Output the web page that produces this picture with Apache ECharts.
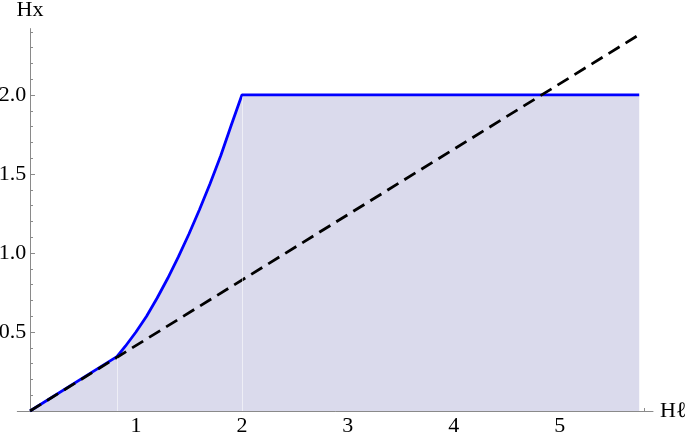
<!DOCTYPE html>
<html>
<head>
<meta charset="utf-8">
<script src="https://cdn.jsdelivr.net/npm/echarts@6/dist/echarts.min.js"></script>
<style>html,body{margin:0;padding:0;background:#fff}#c{width:685px;height:436px}</style>
</head>
<body>
<div id="c"></div>
<script>
// blue curve (x, Hx)
const curveX = [0, 0.82, 0.9, 1.0, 1.1, 1.2, 1.3, 1.4, 1.5, 1.6, 1.7, 1.8, 1.9, 2.0, 5.75];
const curveY = [0, 0.344, 0.41, 0.50, 0.60, 0.715, 0.84, 0.975, 1.12, 1.275, 1.44, 1.615, 1.81, 2.0, 2.0];
// dashed reference line
const dashX = [0, 5.77];
const dashY = [0, 2.39];
// seams in the filling
const seamX = [0.82, 2.0];
const seamY = [0.344, 2.0];
// ticks
const xMajor = [1, 2, 3, 4, 5];
const xMinor = [0.2, 0.4, 0.6, 0.8, 1.2, 1.4, 1.6, 1.8, 2.2, 2.4, 2.6, 2.8, 3.2, 3.4, 3.6, 3.8, 4.2, 4.4, 4.6, 4.8, 5.2, 5.4, 5.6, 5.8];
const yMajor = [0.5, 1.0, 1.5, 2.0];
const yMinor = [0.1, 0.2, 0.3, 0.4, 0.6, 0.7, 0.8, 0.9, 1.1, 1.2, 1.3, 1.4, 1.6, 1.7, 1.8, 1.9, 2.1, 2.2, 2.3, 2.4];

const font = 'Liberation Serif';
const axisCol = '#8a8a8a';
const xMin = -0.12, xMax = 5.88, yMin = 0, yMax = 2.42;

const chart = echarts.init(document.getElementById('c'), null, {renderer: 'canvas'});
chart.setOption({
  animation: false,
  grid: {left: 17.3, right: 32, top: 28.6, bottom: 25, containLabel: false, outerBoundsMode: 'none'},
  xAxis: [
    {type: 'value', min: xMin, max: xMax, name: 'H\u2113', nameLocation: 'end', nameGap: 7,
     nameTextStyle: {fontFamily: font, fontSize: 22, color: '#000', verticalAlign: 'middle'},
     axisLine: {show: true, lineStyle: {color: axisCol, width: 1}},
     axisTick: {show: true, inside: true, length: 5, customValues: xMajor, lineStyle: {color: axisCol}},
     axisLabel: {show: true, customValues: xMajor, fontFamily: font, fontSize: 22, color: '#000', margin: 4, formatter: v => String(v)},
     splitLine: {show: false}},
    {type: 'value', min: xMin, max: xMax, position: 'bottom',
     axisLine: {show: false},
     axisTick: {show: true, inside: true, length: 3, customValues: xMinor, lineStyle: {color: axisCol}},
     axisLabel: {show: false}, splitLine: {show: false}}
  ],
  yAxis: [
    {type: 'value', min: yMin, max: yMax, position: 'left', name: 'Hx', nameLocation: 'end', nameGap: 7,
     nameTextStyle: {fontFamily: font, fontSize: 22, color: '#000', align: 'center'},
     axisLine: {show: true, onZero: true, onZeroAxisIndex: 0, lineStyle: {color: axisCol, width: 1}},
     axisTick: {show: true, inside: true, length: 5, customValues: yMajor, lineStyle: {color: axisCol}},
     axisLabel: {show: true, customValues: yMajor, fontFamily: font, fontSize: 22, color: '#000', margin: -9, formatter: v => v.toFixed(1)},
     splitLine: {show: false}},
    {type: 'value', min: yMin, max: yMax, position: 'left',
     axisLine: {show: false, onZero: true, onZeroAxisIndex: 0},
     axisTick: {show: true, inside: true, length: 3, customValues: yMinor, lineStyle: {color: axisCol}},
     axisLabel: {show: false}, splitLine: {show: false}}
  ],
  series: [
    {type: 'line', xAxisIndex: 0, yAxisIndex: 0, data: curveX.map((x, i) => [x, curveY[i]]),
     showSymbol: false, smooth: false, z: 2,
     lineStyle: {color: '#0000ff', width: 2.8},
     areaStyle: {color: 'rgb(218,218,236)', opacity: 1, origin: 'start'},
     markLine: {silent: true, symbol: 'none', label: {show: false},
       lineStyle: {color: 'rgba(255,255,255,0.55)', width: 1, type: 'solid'},
       data: seamX.map((x, i) => [{coord: [x, 0]}, {coord: [x, seamY[i] - 0.01]}])}},
    {type: 'line', xAxisIndex: 0, yAxisIndex: 0, data: dashX.map((x, i) => [x, dashY[i]]),
     showSymbol: false, z: 3,
     lineStyle: {color: '#000', width: 2.8, type: [13, 7]}}
  ]
});
</script>
</body>
</html>
